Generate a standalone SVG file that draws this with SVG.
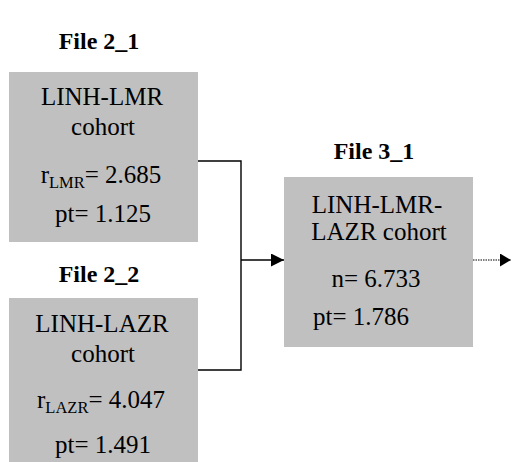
<svg xmlns="http://www.w3.org/2000/svg" width="512" height="462" viewBox="0 0 512 462">
<style>
.box{fill:#c0c0c0;stroke:none}
text{font-family:'Times New Roman','Liberation Serif','Nimbus Roman','FreeSerif','DejaVu Serif',Times,serif}
.t{font-size:25px;fill:#000;text-anchor:middle}
.title{font-size:24px;font-weight:bold;fill:#000;text-anchor:middle}
.sub{font-size:16.5px}
.conn{fill:none;stroke:#000;stroke-width:1.4}
.dot{fill:none;stroke:#000;stroke-width:1.2;stroke-dasharray:1.5 1}
</style>
<defs>
<marker id="ah" markerWidth="13" markerHeight="13" refX="13" refY="6.5" orient="auto" markerUnits="userSpaceOnUse">
<path d="M0,0 L13,6.5 L0,13 Z" fill="#000"/>
</marker>
<marker id="ah2" markerWidth="11" markerHeight="13" refX="11" refY="6.5" orient="auto" markerUnits="userSpaceOnUse">
<path d="M0,0 L11,6.5 L0,13 Z" fill="#000"/>
</marker>
</defs>
<rect width="512" height="462" fill="#fff"/>
<g id="connectors">
<polyline class="conn" points="198,161 241,161 241,370 198,370"/>
<line class="conn" x1="241" y1="260" x2="284" y2="260" marker-end="url(#ah)"/>
<line class="dot" x1="473" y1="260" x2="511" y2="260" marker-end="url(#ah2)"/>
</g>
<g id="file2_1">
<text class="title" x="99" y="49">File 2_1</text>
<rect class="box" x="9" y="72" width="189" height="170"/>
<text class="t" x="102" y="105">LINH-LMR</text>
<text class="t" x="103" y="135">cohort</text>
<text class="t" x="101" y="183">r<tspan class="sub" dy="5">LMR</tspan><tspan dy="-5">= 2.685</tspan></text>
<text class="t" x="103" y="222">pt= 1.125</text>
</g>
<g id="file2_2">
<text class="title" x="99" y="282">File 2_2</text>
<rect class="box" x="9" y="298" width="189" height="170"/>
<text class="t" x="102" y="332">LINH-LAZR</text>
<text class="t" x="103" y="362">cohort</text>
<text class="t" x="101" y="408">r<tspan class="sub" dy="5">LAZR</tspan><tspan dy="-5">= 4.047</tspan></text>
<text class="t" x="103" y="453">pt= 1.491</text>
</g>
<g id="file3_1">
<text class="title" x="374" y="159">File 3_1</text>
<rect class="box" x="284" y="177" width="189" height="170"/>
<text class="t" x="377" y="213">LINH-LMR-</text>
<text class="t" x="379" y="240">LAZR cohort</text>
<text class="t" x="376" y="287">n= 6.733</text>
<text class="t" x="313" y="325" style="text-anchor:start">pt= 1.786</text>
</g>
</svg>
